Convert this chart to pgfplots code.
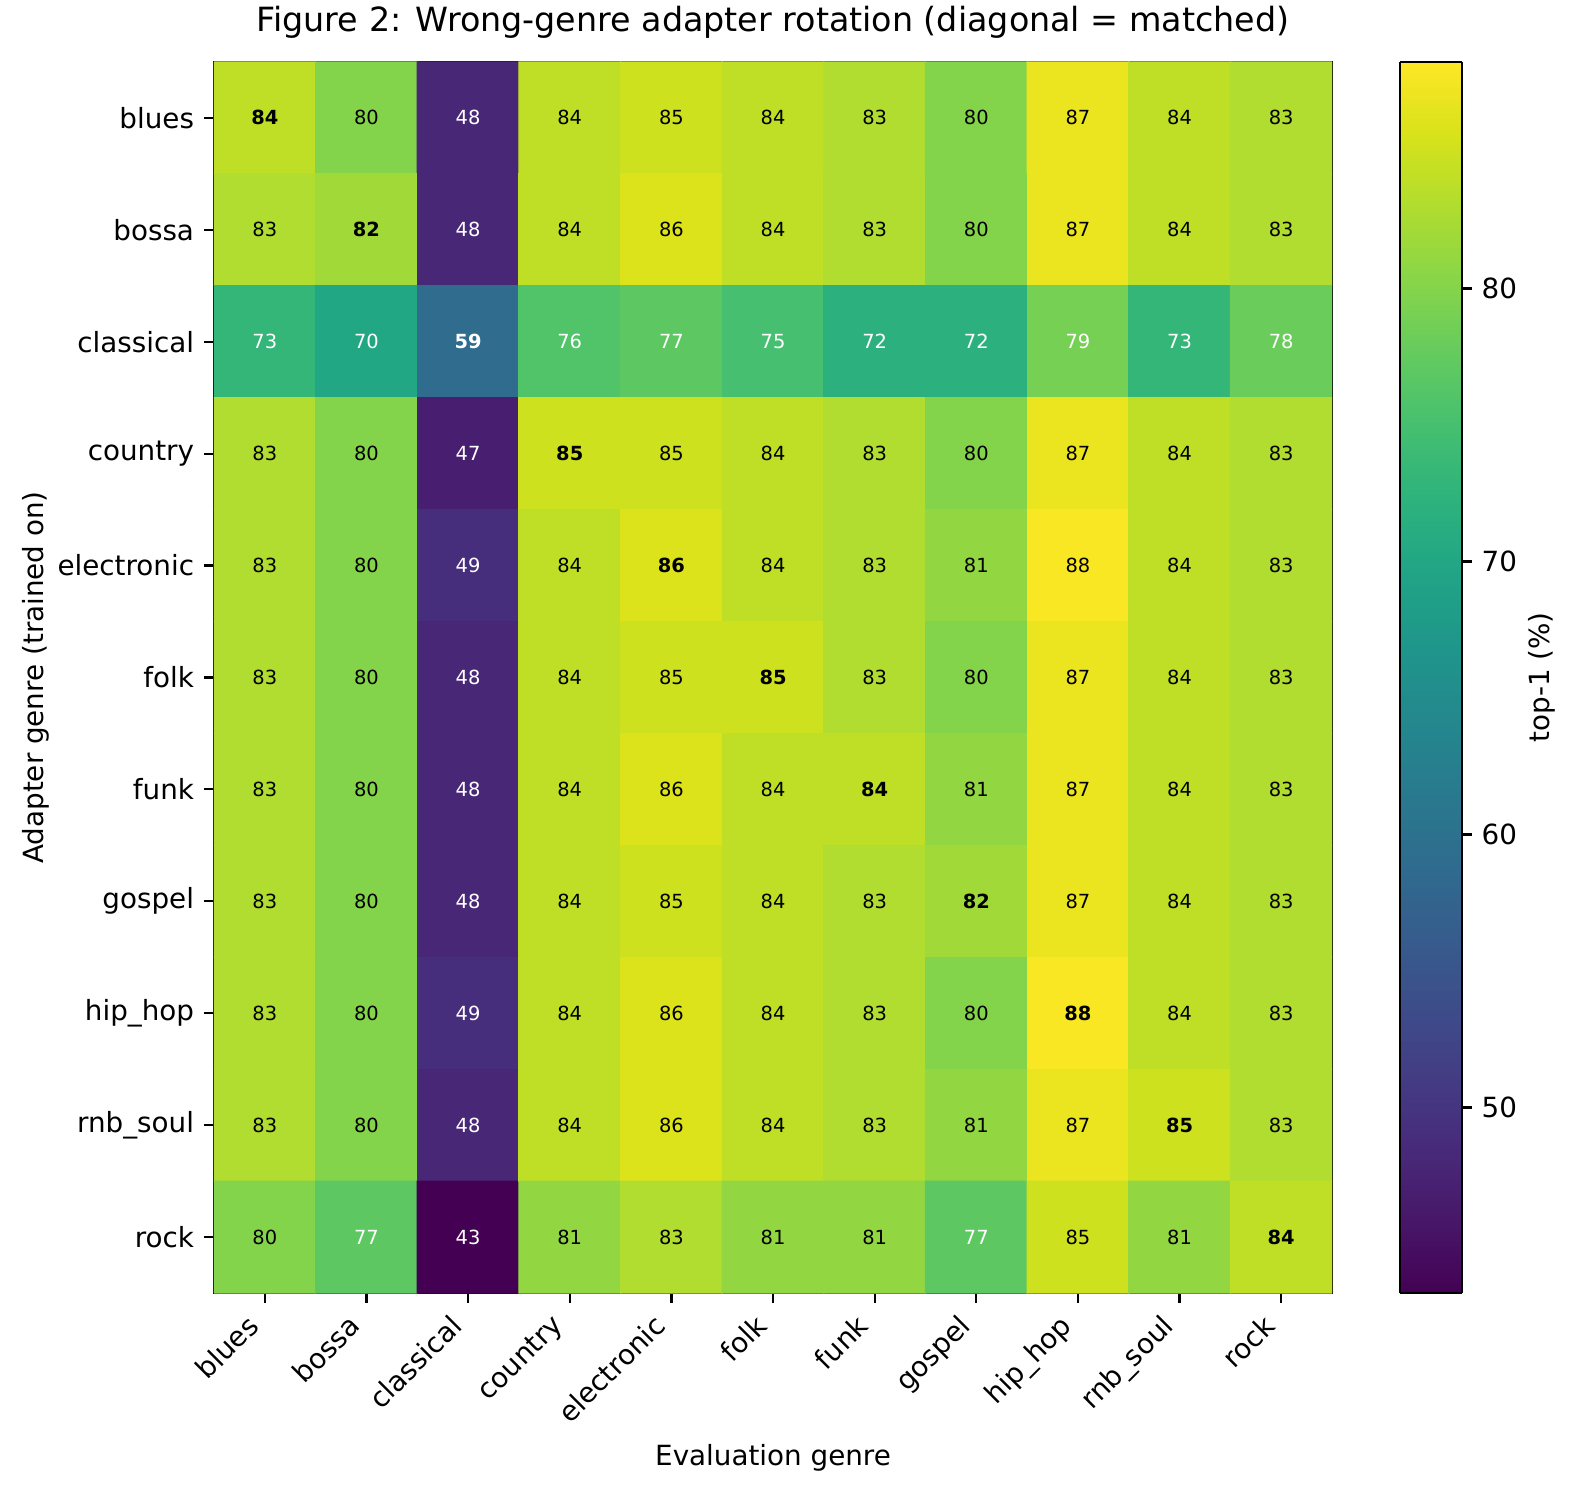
\documentclass[border=0pt]{standalone}
\usepackage{fontspec}
\setmainfont{DejaVu Sans}
\usepackage{pgfplots}
\usepackage{pgfplotstable}
\pgfplotsset{compat=1.18}
\pgfplotsset{/pgf/number format/assume math mode=true}
\pgfplotstableread{
x y v
0 0 84
1 0 80
2 0 48
3 0 84
4 0 85
5 0 84
6 0 83
7 0 80
8 0 87
9 0 84
10 0 83
0 1 83
1 1 82
2 1 48
3 1 84
4 1 86
5 1 84
6 1 83
7 1 80
8 1 87
9 1 84
10 1 83
0 2 73
1 2 70
2 2 59
3 2 76
4 2 77
5 2 75
6 2 72
7 2 72
8 2 79
9 2 73
10 2 78
0 3 83
1 3 80
2 3 47
3 3 85
4 3 85
5 3 84
6 3 83
7 3 80
8 3 87
9 3 84
10 3 83
0 4 83
1 4 80
2 4 49
3 4 84
4 4 86
5 4 84
6 4 83
7 4 81
8 4 88
9 4 84
10 4 83
0 5 83
1 5 80
2 5 48
3 5 84
4 5 85
5 5 85
6 5 83
7 5 80
8 5 87
9 5 84
10 5 83
0 6 83
1 6 80
2 6 48
3 6 84
4 6 86
5 6 84
6 6 84
7 6 81
8 6 87
9 6 84
10 6 83
0 7 83
1 7 80
2 7 48
3 7 84
4 7 85
5 7 84
6 7 83
7 7 82
8 7 87
9 7 84
10 7 83
0 8 83
1 8 80
2 8 49
3 8 84
4 8 86
5 8 84
6 8 83
7 8 80
8 8 88
9 8 84
10 8 83
0 9 83
1 9 80
2 9 48
3 9 84
4 9 86
5 9 84
6 9 83
7 9 81
8 9 87
9 9 85
10 9 83
0 10 80
1 10 77
2 10 43
3 10 81
4 10 83
5 10 81
6 10 81
7 10 77
8 10 85
9 10 81
10 10 84
}\data
\begin{document}
\begin{tikzpicture}
\path[use as bounding box] (-77.04pt,-70.56pt) rectangle (490.32pt,465.48pt);
\begin{axis}[
  scale only axis,
  width=402.5pt, height=443.2pt,
  xmin=-0.5, xmax=10.5, ymin=-0.5, ymax=10.5,
  y dir=reverse,
  enlargelimits=false,
  axis line style={line width=0.8pt},
  tick style={line width=0.8pt, black},
  major tick length=3.5pt,
  tick align=outside,
  xtick={0,...,10}, ytick={0,...,10},
  xtick pos=bottom, ytick pos=left,
  xticklabels={blues,bossa,classical,country,electronic,folk,funk,gospel,hip\_hop,rnb\_soul,rock},
  yticklabels={blues,bossa,classical,country,electronic,folk,funk,gospel,hip\_hop,rnb\_soul,rock},
  ticklabel style={font=\fontsize{10}{12}\selectfont},
  xticklabel style={xshift=-7pt, yshift=-2pt, rotate=45, anchor=north east, inner sep=1pt},
  yticklabel style={inner sep=3.5pt},
  xlabel={Evaluation genre},
  xlabel style={yshift=-2pt},
  ylabel={Adapter genre (trained on)},
  ylabel shift=-4pt,
  label style={font=\fontsize{10}{12}\selectfont},
  title={Figure 2: Wrong-genre adapter rotation (diagonal = matched)},
  title style={font=\fontsize{12}{14.4}\selectfont, yshift=-1pt},
  colormap/viridis,
  point meta min=43.2, point meta max=88.3,
  colorbar sampled,
  colorbar style={
    at={(parent axis.north east)}, anchor=north west, xshift=16pt,
    width=22.3pt,
    samples=240,
    ytick={50,60,70,80},
    yticklabel pos=right, ytick pos=right,
    tick align=outside,
    major tick length=3.5pt,
    axis line style={line width=0.8pt},
    tick style={line width=0.8pt, black},
    ticklabel style={font=\fontsize{10}{12}\selectfont},
    ylabel={top-1 (\%)},
    every axis y label/.style={at={(ticklabel cs:0.5)}, xshift=0.5pt, rotate=90, anchor=north, inner sep=0pt, font=\fontsize{10}{12}\selectfont},
  },
]
\addplot[matrix plot*, mesh/cols=11, point meta=\thisrow{v}] table[x=x, y=y] {\data};
\addplot[draw=none, mark=none,
  visualization depends on={\thisrow{x}\as\cx},
  visualization depends on={\thisrow{y}\as\cy},
  visualization depends on={\thisrow{v}\as\val},
  point meta=\thisrow{v},
  nodes near coords={\ifdim\val pt<79.5pt\color{white}\fi\ifdim\cx pt=\cy pt\bfseries\fi\pgfmathprintnumber[fixed,precision=0]{\val}},
  every node near coord/.append style={anchor=center, black, font=\fontsize{7}{8.4}\selectfont},
] table[x=x, y=y] {\data};
\end{axis}
\end{tikzpicture}
\end{document}
